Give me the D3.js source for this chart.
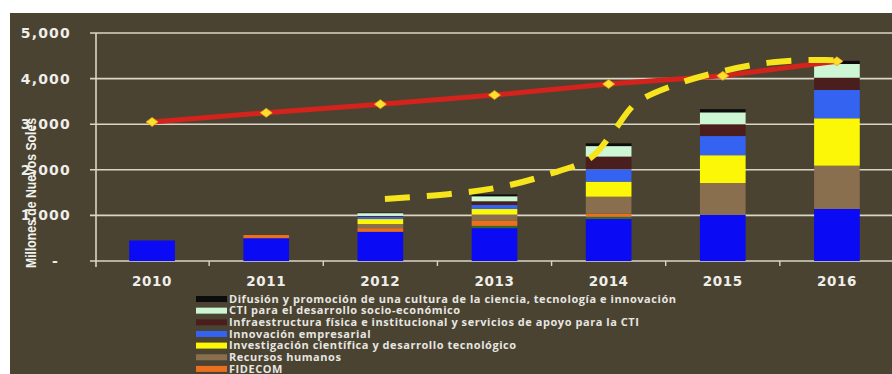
<!DOCTYPE html>
<html>
<head>
<meta charset="utf-8">
<script src="https://cdn.jsdelivr.net/npm/d3@7"></script>
<style>
  body { margin: 0; background: #fff; }
</style>
</head>
<body>
<div id="chart"></div>
<script>
// Datos (millones de nuevos soles), de abajo hacia arriba en la pila
const years = ["2010", "2011", "2012", "2013", "2014", "2015", "2016"]
const base = [450, 500, 640, 720, 920, 1010, 1140]
const otros = [0, 0, 0, 50, 50, 0, 0]
const fidecom = [0, 70, 80, 120, 70, 0, 0]
const recursosHumanos = [0, 0, 90, 130, 370, 700, 950]
const investigacion = [0, 0, 110, 120, 330, 610, 1040]
const innovacion = [0, 0, 50, 90, 270, 420, 620]
const infraestructura = [0, 0, 20, 80, 280, 260, 270]
const ctiSocio = [0, 0, 60, 110, 230, 260, 300]
const difusion = [0, 0, 10, 40, 60, 70, 70]

// linea roja (con rombos)
const meta = [3050, 3250, 3440, 3640, 3880, 4060, 4380]

// linea amarilla discontinua: posicion en años (0 = 2010) y valor
const tendPos = [2.04, 2.61, 3.05, 3.46, 3.84, 4.05, 4.24, 4.60, 5.01, 5.44, 5.89, 6.02]
const tendVal = [1360, 1470, 1620, 1890, 2260, 2870, 3460, 3880, 4170, 4360, 4410, 4390]

const yTicks = [0, 1000, 2000, 3000, 4000, 5000]

const seriesKeys = ["base", "otros", "fidecom", "recursos", "investigacion", "innovacion", "infraestructura", "cti", "difusion"]
const seriesData = [base, otros, fidecom, recursosHumanos, investigacion, innovacion, infraestructura, ctiSocio, difusion]
const colors = {
  base: "#0a0af5",
  otros: "#2f6a2a",
  fidecom: "#ea6f1e",
  recursos: "#8a6f4e",
  investigacion: "#fbf707",
  innovacion: "#3463f2",
  infraestructura: "#4a1e1c",
  cti: "#cdf6d4",
  difusion: "#0c0c0c"
}

// Leyenda (de arriba hacia abajo)
const legendKeys = ["difusion", "cti", "infraestructura", "innovacion", "investigacion", "recursos", "fidecom"]
const legendLabels = [
  "Difusión y promoción de una cultura de la ciencia, tecnología e innovación",
  "CTI para el desarrollo socio-económico",
  "Infraestructura física e institucional y servicios de apoyo para la CTI",
  "Innovación empresarial",
  "Investigación científica y desarrollo tecnológico",
  "Recursos humanos",
  "FIDECOM"
]

const W = 892, H = 374

const svg = d3.select("#chart")
  .append("svg")
  .attr("width", W)
  .attr("height", H)

// Fondo
svg.append("rect")
  .attr("x", 10).attr("y", 13)
  .attr("width", W - 10).attr("height", H - 13)
  .attr("fill", "#4b4331")

// Escalas
const x = d3.scaleBand()
  .domain(years)
  .range([95, 894])
  .paddingInner(0.6)
  .paddingOuter(0.3)

const y = d3.scaleLinear()
  .domain([0, 5000])
  .range([261, 33])

const xi = d3.scaleLinear()
  .domain([0, 6])
  .range([x("2010") + x.bandwidth() / 2, x("2016") + x.bandwidth() / 2])

const gridColor = "#d9d5c8"

// Lineas de cuadricula
svg.selectAll(".grid")
  .data(yTicks)
  .enter()
  .append("line")
  .attr("x1", 90).attr("x2", W)
  .attr("y1", d => y(d)).attr("y2", d => y(d))
  .attr("stroke", gridColor)
  .attr("stroke-width", 1.6)

// Eje Y
svg.append("line")
  .attr("x1", 96).attr("x2", 96)
  .attr("y1", y(5000)).attr("y2", y(0) + 6)
  .attr("stroke", gridColor)
  .attr("stroke-width", 1.6)

// Marcas del eje X
svg.selectAll(".xtick")
  .data(years.slice(1))
  .enter()
  .append("line")
  .attr("x1", d => x(d) - x.step() * 0.3)
  .attr("x2", d => x(d) - x.step() * 0.3)
  .attr("y1", y(0)).attr("y2", y(0) + 5)
  .attr("stroke", gridColor)
  .attr("stroke-width", 1.4)

// Barras apiladas
const table = years.map((yr, i) => {
  const row = { year: yr }
  seriesKeys.forEach((k, j) => { row[k] = seriesData[j][i] })
  return row
})
const stacked = d3.stack().keys(seriesKeys)(table)

svg.selectAll(".layer")
  .data(stacked)
  .enter()
  .append("g")
  .attr("fill", d => colors[d.key])
  .selectAll("rect")
  .data(d => d)
  .enter()
  .append("rect")
  .attr("x", d => x(d.data.year))
  .attr("width", x.bandwidth())
  .attr("y", d => y(d[1]))
  .attr("height", d => y(d[0]) - y(d[1]))

// Linea roja
const cx = (d, i) => x(years[i]) + x.bandwidth() / 2
svg.append("path")
  .datum(meta)
  .attr("fill", "none")
  .attr("stroke", "#d4231c")
  .attr("stroke-width", 5)
  .attr("d", d3.line().x(cx).y(d => y(d)))

svg.selectAll(".diamond")
  .data(meta)
  .enter()
  .append("path")
  .attr("transform", (d, i) => `translate(${cx(d, i)},${y(d)})`)
  .attr("d", "M-6,0 L0,-4.5 L6,0 L0,4.5 Z")
  .attr("fill", "#fde02a")
  .attr("stroke", "#e8a21a")
  .attr("stroke-width", 0.8)

// Linea amarilla discontinua
svg.append("path")
  .datum(tendPos.map((p, i) => [p, tendVal[i]]))
  .attr("fill", "none")
  .attr("stroke", "#f6e41c")
  .attr("stroke-width", 6)
  .attr("stroke-dasharray", "25,17")
  .attr("d", d3.line().curve(d3.curveCatmullRom).x(d => xi(d[0])).y(d => y(d[1])))

// Etiquetas del eje Y
const yfmt = d => d === 0 ? "-" : d3.format(",")(d)
svg.selectAll(".ylab")
  .data(yTicks)
  .enter()
  .append("text")
  .attr("x", d => d === 0 ? 59 : 71)
  .attr("y", d => y(d))
  .attr("dy", "0.36em")
  .attr("text-anchor", "end")
  .attr("fill", "#eeeeea")
  .style("font-family", "DejaVu Sans")
  .style("font-weight", "bold")
  .style("font-size", "14px")
  .style("letter-spacing", "1.2px")
  .text(yfmt)

// Titulo del eje Y
svg.append("text")
  .attr("transform", "translate(36,193) rotate(-90)")
  .attr("text-anchor", "middle")
  .attr("fill", "#f2f2ee")
  .attr("textLength", 150)
  .attr("lengthAdjust", "spacingAndGlyphs")
  .style("font-family", "Liberation Sans")
  .style("font-weight", "bold")
  .style("font-size", "15.5px")
  .text("Millones de Nuevos Soles")

// Etiquetas del eje X
svg.selectAll(".xlab")
  .data(years)
  .enter()
  .append("text")
  .attr("x", d => x(d) + x.bandwidth() / 2)
  .attr("y", 286)
  .attr("text-anchor", "middle")
  .attr("fill", "#eeeeea")
  .style("font-family", "DejaVu Sans")
  .style("font-weight", "bold")
  .style("font-size", "13.5px")
  .style("letter-spacing", "0.6px")
  .text(d => d)

// Leyenda
const legend = svg.selectAll(".legend")
  .data(legendKeys)
  .enter()
  .append("g")
  .attr("transform", (d, i) => `translate(196,${299 + i * 11.65})`)

legend.append("rect")
  .attr("x", 0).attr("y", -3)
  .attr("width", 31).attr("height", 6)
  .attr("fill", d => colors[d])

legend.append("text")
  .attr("x", 33)
  .attr("dy", "0.34em")
  .attr("fill", "#e6e6e2")
  .style("font-family", "Open Sans")
  .style("font-weight", "bold")
  .style("font-size", "11px")
  .style("letter-spacing", "0.55px")
  .text((d, i) => legendLabels[i])
</script>
</body>
</html>
